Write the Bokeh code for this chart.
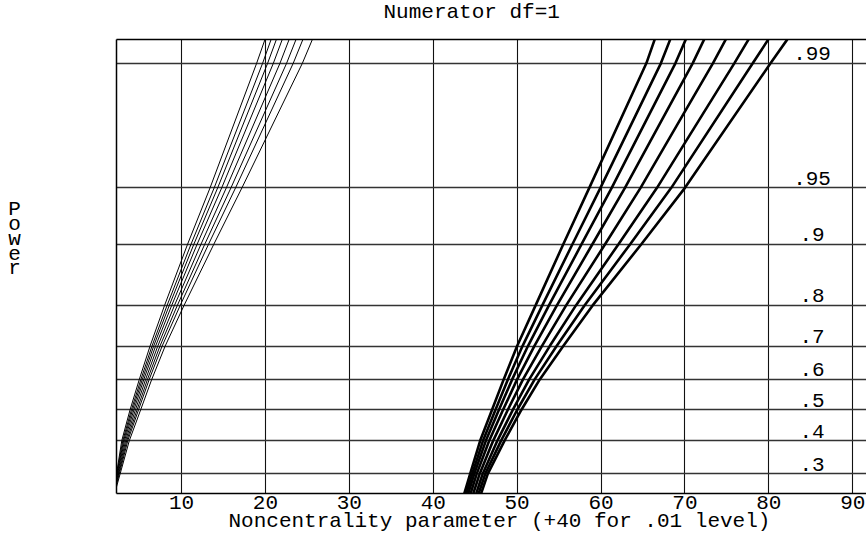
import numpy as np
from bokeh.plotting import figure
from bokeh.layouts import row, column
from bokeh.models import FixedTicker, LinearAxis, Range1d, Title, Label
from bokeh.core.properties import value
from bokeh.embed import file_html
from bokeh.resources import INLINE

# ---- data ----
power_levels = [0.3, 0.4, 0.5, 0.6, 0.7, 0.8, 0.9, 0.95, 0.99]
level_labels = [".3", ".4", ".5", ".6", ".7", ".8", ".9", ".95", ".99"]
x_ticks = [10, 20, 30, 40, 50, 60, 70, 80, 90]

# alpha = .05 curves (thin): start at the left border, then crossings at these power levels
start_x05 = 2.25
start_p05 = [0.300, 0.295, 0.291, 0.286, 0.281, 0.276, 0.271, 0.265]
p05 = [0.4, 0.5, 0.6, 0.7, 0.8, 0.9, 0.95, 0.99, 0.9927]
x05 = [
    [2.88, 3.86, 4.97, 6.25, 7.98, 10.72, 13.40, 18.95, 19.95],
    [3.00, 4.02, 5.16, 6.48, 8.28, 11.13, 13.89, 19.66, 20.68],
    [3.10, 4.16, 5.33, 6.68, 8.54, 11.47, 14.31, 20.26, 21.31],
    [3.21, 4.32, 5.51, 6.91, 8.83, 11.86, 14.79, 20.94, 22.01],
    [3.34, 4.50, 5.72, 7.17, 9.16, 12.32, 15.34, 21.73, 22.83],
    [3.47, 4.69, 5.94, 7.43, 9.50, 12.77, 15.89, 22.52, 23.65],
    [3.60, 4.87, 6.15, 7.69, 9.84, 13.22, 16.44, 23.31, 24.47],
    [3.78, 5.12, 6.45, 8.05, 10.30, 13.85, 17.20, 24.40, 25.60],
]

# alpha = .01 curves (thick), shifted by +40
p01 = [0.248, 0.3, 0.4, 0.5, 0.6, 0.7, 0.8, 0.9, 0.95, 0.99, 0.9927]
x01 = [
    [43.70, 44.40, 45.60, 47.00, 48.40, 50.00, 52.20, 55.50, 58.60, 65.40, 66.40],
    [43.93, 44.65, 45.94, 47.41, 48.90, 50.64, 53.00, 56.59, 59.93, 67.13, 68.25],
    [44.17, 44.89, 46.28, 47.82, 49.41, 51.29, 53.79, 57.68, 61.27, 68.86, 70.10],
    [44.45, 45.18, 46.68, 48.31, 50.00, 52.05, 54.74, 58.97, 62.85, 70.92, 72.29],
    [44.77, 45.53, 47.15, 48.88, 50.70, 52.95, 55.84, 60.48, 64.71, 73.33, 74.87],
    [45.12, 45.89, 47.65, 49.48, 51.44, 53.89, 57.01, 62.08, 66.67, 75.88, 77.59],
    [45.41, 46.20, 48.09, 50.00, 52.09, 54.71, 58.03, 63.47, 68.37, 78.08, 79.94],
    [45.70, 46.50, 48.50, 50.50, 52.70, 55.50, 59.00, 64.80, 70.00, 80.20, 82.20],
]

title_text = "Numerator df=1"
xlabel_text = "Noncentrality parameter (+40 for .01 level)"
ylabel_text = "Power"


def logit(p):
    p = np.asarray(p, dtype=float)
    return np.log(p / (1 - p))


FONT = "Liberation Mono"
FS = "21px"
TOP = 28          # height of the title strip
H = 540 - TOP     # height of the chart row

# ---- title strip ----
t = figure(width=866, height=TOP, output_backend="svg", toolbar_location=None,
           x_range=Range1d(0, 866), y_range=Range1d(TOP, 0),
           x_axis_type=None, y_axis_type=None, min_border=0,
           outline_line_color=None, title_location=None)
t.xgrid.visible = False
t.ygrid.visible = False
t.text(x=[383], y=[12], text=[title_text], text_align="left",
       text_baseline="middle", text_font=value(FONT), text_font_size=FS,
       text_color="black")

# ---- main chart ----
y_lo, y_hi = -1.107, 4.911
p = figure(width=756, height=H, output_backend="svg", toolbar_location=None,
           x_range=Range1d(2.25, 91.64), y_range=Range1d(y_lo, y_hi),
           min_border_left=6, min_border_right=0, min_border_top=39 - TOP,
           min_border_bottom=540 - 493, outline_line_color=None,
           title_location=None)
p.background_fill_color = "white"
p.border_fill_color = "white"

p.xaxis.ticker = FixedTicker(ticks=x_ticks)
p.xaxis.major_tick_line_color = None
p.xaxis.minor_tick_line_color = None
p.xaxis.axis_line_color = "black"
p.xaxis.axis_line_width = 1.5
p.xaxis.major_label_text_font = FONT
p.xaxis.major_label_text_font_size = FS
p.xaxis.major_label_text_color = "black"
p.xaxis.major_label_standoff = -4

p.yaxis.ticker = FixedTicker(ticks=[])
p.yaxis.axis_line_color = "black"
p.yaxis.axis_line_width = 1.5
p.yaxis.major_label_text_font_size = "0px"
p.yaxis.major_tick_line_color = None
p.yaxis.minor_tick_line_color = None

top_axis = LinearAxis(ticker=FixedTicker(ticks=[]), axis_line_color="black",
                      axis_line_width=1.5, major_label_text_font_size="0px",
                      major_tick_line_color=None, minor_tick_line_color=None)
p.add_layout(top_axis, "above")

p.add_layout(Title(text=xlabel_text, align="left", offset=112, text_font=FONT,
                   text_font_size=FS, text_font_style="normal",
                   text_color="black", standoff=-8), "below")

p.xgrid.ticker = FixedTicker(ticks=x_ticks)
p.xgrid.grid_line_color = "#111111"
p.xgrid.grid_line_width = 1.1
p.ygrid.ticker = FixedTicker(ticks=list(logit(power_levels)))
p.ygrid.grid_line_color = "#333333"
p.ygrid.grid_line_width = 1.3

xs05, ys05 = [], []
for sp, xr in zip(start_p05, x05):
    xs05.append([start_x05] + list(xr))
    ys05.append(list(logit([sp] + p05)))
p.multi_line(xs05, ys05, line_color="black", line_width=1.0)

xs01 = [list(xr) for xr in x01]
ys01 = [list(logit(p01)) for _ in x01]
p.multi_line(xs01, ys01, line_color="black", line_width=2.6)

for lv, lab in zip(power_levels, level_labels):
    p.add_layout(Label(x=85.15, y=float(logit(lv)), y_offset=3, text=lab,
                       text_align="center", text_baseline="bottom",
                       text_font=FONT, text_font_size=FS, text_color="black"))

# ---- left strip with the stacked "Power" label ----
q = figure(width=110, height=H, output_backend="svg", toolbar_location=None,
           x_range=Range1d(0, 110), y_range=Range1d(H + TOP, TOP),
           x_axis_type=None, y_axis_type=None, min_border=0,
           outline_line_color=None, title_location=None)
q.xgrid.visible = False
q.ygrid.visible = False
q.text(x=[14] * len(ylabel_text), y=[220 + 16.5 * i for i in range(len(ylabel_text))],
       text=list(ylabel_text), text_align="center", text_baseline="middle",
       text_font=value(FONT), text_font_size="21px", text_color="black")

layout = column(t, row(q, p, spacing=0), spacing=0)
open("out.html", "w").write(file_html(layout, INLINE))
